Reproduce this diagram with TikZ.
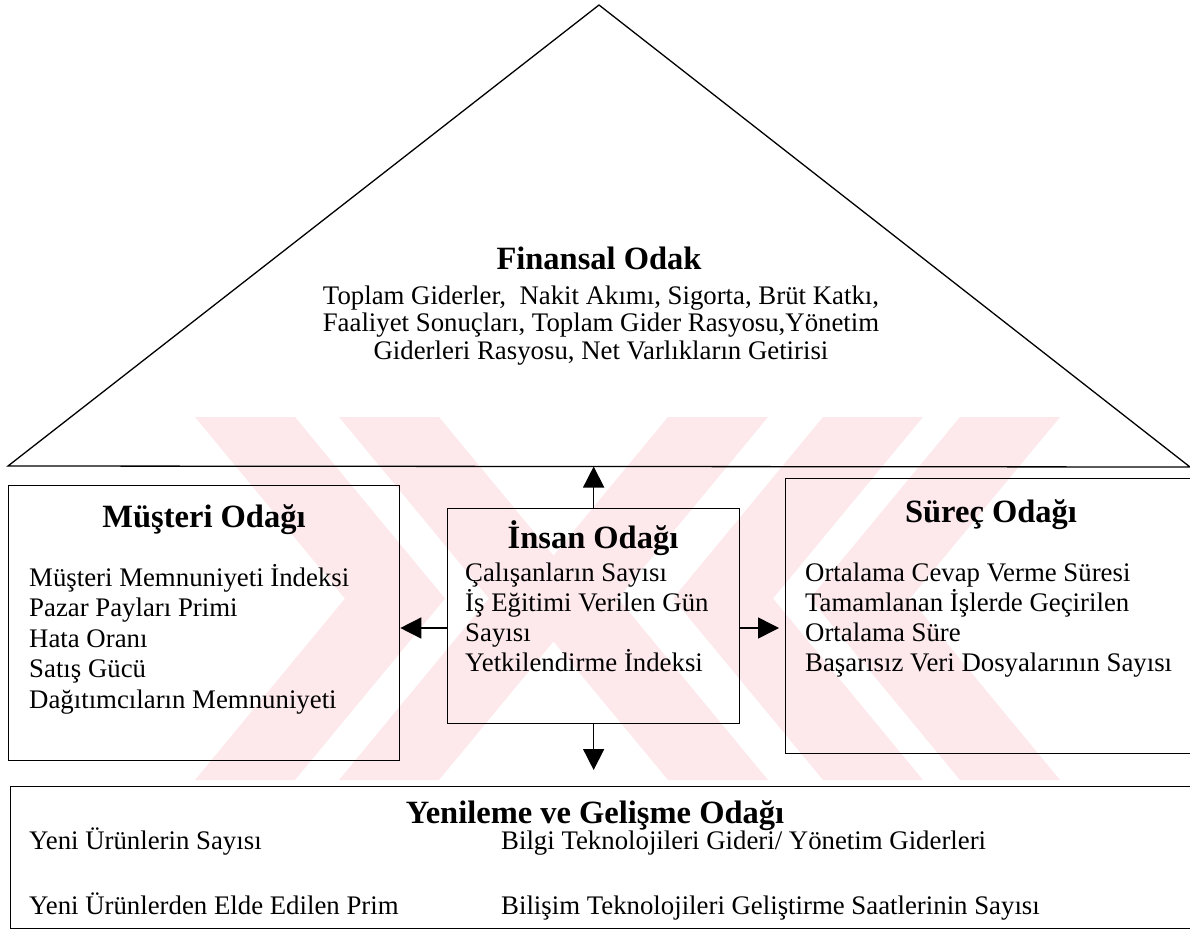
\documentclass[tikz,border=0pt]{standalone}
\usepackage{fontspec}
\setmainfont{Liberation Serif}
\usetikzlibrary{arrows.meta}
\definecolor{markpink}{RGB}{253,233,236}
\begin{document}
\begin{tikzpicture}[x=1pt, y=-1pt,
  frame/.style={draw=black, line width=1.3pt, inner sep=0pt, anchor=north west},
  heading/.style={font=\fontsize{32.5}{36}\selectfont\bfseries, inner sep=0pt, anchor=base},
  item/.style={font=\fontsize{26.8}{30}\selectfont, inner sep=0pt, anchor=base west},
  citem/.style={item, anchor=base},
  link/.style={line width=1.5pt, -{Triangle[length=21pt, width=21pt]}},
]
\useasboundingbox (0,0) rectangle (1190,936);
\fill[white] (0,0) rectangle (1190,936);
\begin{scope}
\clip (0,0) rectangle (1190,936);

% faint striped background mark: right-pointing and left-pointing chevrons
\begin{scope}
\clip (0,417) rectangle (1190,780);
\foreach \a in {195,339}
  \fill[markpink] (\a,417) -- ++(100,0) -- ++(150,181.5) -- ++(-150,181.5)
                  -- ++(-100,0) -- ++(150,-181.5) -- cycle;
\foreach \b in {668,823,960}
  \fill[markpink] (\b,417) -- ++(100,0) -- ++(-150,181.5) -- ++(150,181.5)
                  -- ++(-100,0) -- ++(-150,-181.5) -- cycle;
\end{scope}

% roof: financial focus
\draw[line width=1.3pt, line join=miter] (8,466) -- (599,5) -- (1190,467) -- cycle;
\coordinate (fin-base) at (599,466.5);
\node[heading] (fin-title) at (599,269) {Finansal Odak};
\foreach \t [count=\i] in {{Toplam Giderler,~ Nakit Akımı, Sigorta, Brüt Katkı,},
                          {Faaliyet Sonuçları, Toplam Gider Rasyosu,Yönetim},
                          {Giderleri Rasyosu, Net Varlıkların Getirisi}}
  \node[citem] (fin-\i) at (601,{304+27.5*(\i-1)}) {\t};

% customer focus
\node[frame, minimum width=391pt, minimum height=275pt] (mus) at (8,485) {};
\node[heading] (mus-title) at (204,527) {Müşteri Odağı};
\foreach \t [count=\i] in {Müşteri Memnuniyeti İndeksi, Pazar Payları Primi,
                          Hata Oranı, Satış Gücü, Dağıtımcıların Memnuniyeti}
  \node[item] (mus-\i) at (29,{586+30.5*(\i-1)}) {\t};

% people focus
\node[frame, minimum width=292pt, minimum height=215pt] (ins) at (447,508) {};
\node[heading] (ins-title) at (593,548) {İnsan Odağı};
\foreach \t [count=\i] in {Çalışanların Sayısı, İş Eğitimi Verilen Gün,
                          Sayısı, Yetkilendirme İndeksi}
  \node[item] (ins-\i) at (465,{581+30.3*(\i-1)}) {\t};

% process focus
\node[frame, minimum width=430pt, minimum height=275pt] (sur) at (785,478) {};
\node[heading] (sur-title) at (991,522) {Süreç Odağı};
\foreach \t [count=\i] in {Ortalama Cevap Verme Süresi, Tamamlanan İşlerde Geçirilen,
                          Ortalama Süre, Başarısız Veri Dosyalarının Sayısı}
  \node[item] (sur-\i) at (805,{581+30*(\i-1)}) {\t};

% renewal and development focus
\node[frame, minimum width=1200pt, minimum height=142pt] (yen) at (10,786) {};
\node[heading] (yen-title) at (595,823) {Yenileme ve Gelişme Odağı};
\node[item] (yen-1) at (29,849) {Yeni Ürünlerin Sayısı};
\node[item] (yen-2) at (29,914) {Yeni Ürünlerden Elde Edilen Prim};
\node[item] (yen-3) at (501,849) {Bilgi Teknolojileri Gideri/ Yönetim Giderleri};
\node[item] (yen-4) at (501,914) {Bilişim Teknolojileri Geliştirme Saatlerinin Sayısı};

% links from the people focus
\coordinate (mid) at (0,628);
\draw[link] (ins.north) -- (ins.north |- fin-base);
\draw[link] (ins.west |- mid) -- (mus.east |- mid);
\draw[link, shorten >=6pt] (ins.east |- mid) -- (sur.west |- mid);
\draw[link, shorten >=16pt] (ins.south) -- (ins.south |- yen.north);
\end{scope}
\end{tikzpicture}
\end{document}
